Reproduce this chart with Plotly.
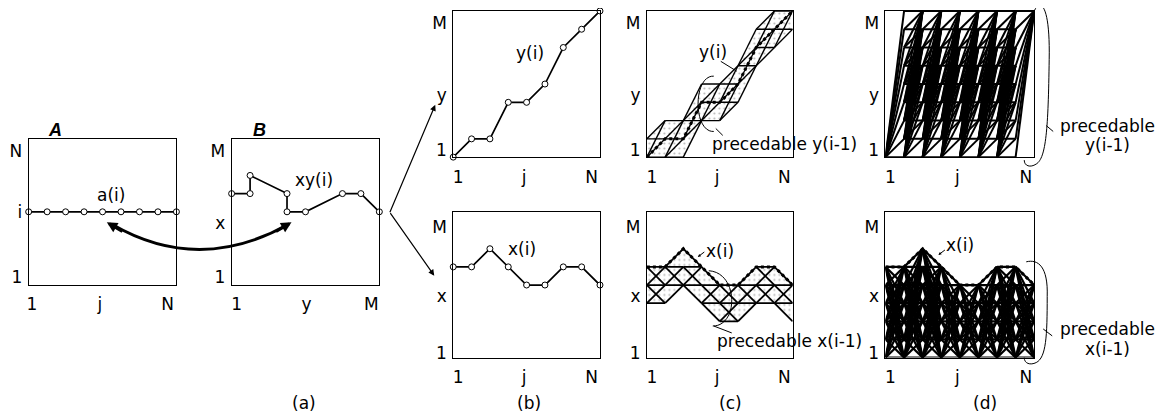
import plotly.graph_objects as go

W, H = 1172, 420          # target picture size
OFF = 8                   # default page body margin
FW, FH = W - 2 * OFF, H - 2 * OFF

# ---------------- data ----------------
j_vals = [1, 2, 3, 4, 5, 6, 7, 8, 9]          # column index j = 1..N
a_row = [5, 5, 5, 5, 5, 5, 5, 5, 5]           # a(i): row i of image A
y_path = [1, 2, 2, 4, 4, 5, 7, 8, 9]          # y(i) along j
x_path = [6, 6, 7, 6, 5, 5, 6, 6, 5]          # x(i) along j
N_cols = 9
M_rows = 9
x_prec_depth = 2                              # x(i-1) in [x(i)-2, x(i)]
y_prec_spread = 1                             # y(i-1) in [y(i)-1, y(i)+1]

tick_A_x = ['1', 'j', 'N']
tick_A_y = ['1', 'i', 'N']
tick_B_x = ['1', 'y', 'M']
tick_B_y = ['1', 'x', 'M']
tick_j = ['1', 'j', 'N']
tick_y = ['1', 'y', 'M']
tick_x = ['1', 'x', 'M']

FONT = 'DejaVu Sans'
FS = 17

# ---------------- layout boxes (pixels in the picture) ----------------
boxes = {
    'A':  (26.7, 174.7, 140.7, 288),
    'B':  (230, 378, 140.7, 288),
    'b1': (452, 599, 11, 159),
    'b2': (452, 599, 215, 362),
    'c1': (646, 792, 11, 159),
    'c2': (646, 792, 215, 362),
    'd1': (885, 1034, 11, 159),
    'd2': (885, 1034, 215, 362),
}
ticks = {
    'A':  ([1.18, 4.85, 8.53], tick_A_x, [1.43, 5.0, 8.33], tick_A_y),
    'B':  ([1.27, 5.05, 8.57], tick_B_x, [1.43, 4.37, 8.33], tick_B_y),
    'b1': ([1.27, 4.86, 8.55], tick_j, [1.38, 4.42, 8.34], tick_y),
    'b2': ([1.27, 4.86, 8.55], tick_j, [1.27, 4.37, 8.2], tick_x),
    'c1': ([1.27, 4.86, 8.55], tick_j, [1.38, 4.42, 8.34], tick_y),
    'c2': ([1.27, 4.86, 8.55], tick_j, [1.27, 4.37, 8.2], tick_x),
    'd1': ([1.27, 4.86, 8.55], tick_j, [1.38, 4.42, 8.34], tick_y),
    'd2': ([1.27, 4.86, 8.55], tick_j, [1.27, 4.37, 8.2], tick_x),
}
order = ['A', 'B', 'b1', 'b2', 'c1', 'c2', 'd1', 'd2']
axid = {k: i + 1 for i, k in enumerate(order)}


def fx(px):
    return (px - OFF) / FW


def fy(py):
    return 1 - (py - OFF) / FH


fig = go.Figure()
layout = dict(width=FW, height=FH, margin=dict(l=0, r=0, t=0, b=0),
              paper_bgcolor='white', plot_bgcolor='rgba(0,0,0,0)',
              showlegend=False, font=dict(family=FONT, size=FS, color='black'))

for k in order:
    n = axid[k]
    x0, x1, y0, y1 = boxes[k]
    tx, txt, ty, tyt = ticks[k]
    xs = 'xaxis' if n == 1 else f'xaxis{n}'
    ys = 'yaxis' if n == 1 else f'yaxis{n}'
    layout[xs] = dict(domain=[fx(x0), fx(x1)], range=[1, 9], anchor=f'y{n if n > 1 else ""}',
                      showline=True, mirror=True, linecolor='black', linewidth=1,
                      showgrid=False, zeroline=False, ticks='', tickvals=tx, ticktext=txt,
                      tickfont=dict(size=FS, family=FONT), ticklabelstandoff=4, fixedrange=True)
    layout[ys] = dict(domain=[fy(y1), fy(y0)], range=[1, 9], anchor=f'x{n if n > 1 else ""}',
                      showline=True, mirror=True, linecolor='black', linewidth=1,
                      showgrid=False, zeroline=False, ticks='', tickvals=ty, ticktext=tyt,
                      tickfont=dict(size=FS, family=FONT), ticklabelstandoff=2, fixedrange=True)


def ax(k):
    n = axid[k]
    s = '' if n == 1 else str(n)
    return dict(xaxis='x' + s, yaxis='y' + s)


def add_segments(k, segs, width=1.0, color='black'):
    xs, ys = [], []
    for (a, b, c, d) in segs:
        xs += [a, c, None]
        ys += [b, d, None]
    fig.add_trace(go.Scatter(x=xs, y=ys, mode='lines', line=dict(color=color, width=width),
                             hoverinfo='skip', cliponaxis=False, **ax(k)))


def add_path(k, xs, ys):
    fig.add_trace(go.Scatter(x=xs, y=ys, mode='lines+markers',
                             line=dict(color='black', width=1.7),
                             marker=dict(symbol='circle', size=6, color='white',
                                         line=dict(color='black', width=1)),
                             cliponaxis=False, hoverinfo='skip', **ax(k)))


def add_band(k, lower, upper):
    fig.add_trace(go.Scatter(x=j_vals, y=lower, mode='lines', line=dict(width=0, color='rgba(0,0,0,0)'),
                             hoverinfo='skip', **ax(k)))
    fig.add_trace(go.Scatter(x=j_vals, y=upper, mode='lines', line=dict(width=0, color='rgba(0,0,0,0)'),
                             fill='tonexty', fillcolor='rgba(255,255,255,0)',
                             fillpattern=dict(shape='.', size=5, solidity=0.15, fgcolor='#777'),
                             hoverinfo='skip', **ax(k)))


def add_dotted(k, path):
    fig.add_trace(go.Scatter(x=j_vals, y=path, mode='lines', line=dict(color='black', width=3, dash='dot'),
                             cliponaxis=False, hoverinfo='skip', **ax(k)))


# (a) A and B
add_path('A', j_vals, a_row)
add_path('B', y_path, x_path)
# (b)
add_path('b1', j_vals, y_path)
add_path('b2', j_vals, x_path)

# (c) precedable meshes
lev_y = [list(range(max(1, v - y_prec_spread), min(M_rows, v + y_prec_spread) + 1)) for v in y_path]
segs = []
for j in range(N_cols - 1):
    for k0 in lev_y[j]:
        for k1 in lev_y[j + 1]:
            if 0 <= k1 - k0 <= 2:
                segs.append((j_vals[j], k0, j_vals[j + 1], k1))
add_band('c1', [l[0] for l in lev_y], [l[-1] for l in lev_y])
add_segments('c1', segs, width=1.4)
add_dotted('c1', y_path)

lev_x = [list(range(max(1, v - x_prec_depth), v + 1)) for v in x_path]
segs = []
for j in range(N_cols - 1):
    for k0 in lev_x[j]:
        for k1 in lev_x[j + 1]:
            if abs(k1 - k0) <= 1:
                segs.append((j_vals[j], k0, j_vals[j + 1], k1))
add_band('c2', [l[0] for l in lev_x], [l[-1] for l in lev_x])
add_segments('c2', segs, width=1.8)
add_dotted('c2', x_path)

# (d) all precedable paths
lev_d1 = []
for j in range(N_cols):
    if j == 0:
        lev_d1.append([1])
    elif j == N_cols - 1:
        lev_d1.append([M_rows])
    else:
        lev_d1.append(list(range(1, M_rows + 1)))
segs = []
for j in range(N_cols - 1):
    for k0 in lev_d1[j]:
        for k1 in lev_d1[j + 1]:
            if k1 >= k0:
                segs.append((j_vals[j], k0, j_vals[j + 1], k1))
add_segments('d1', segs, width=2.0)

lev_d2 = [list(range(1, v + 1)) for v in x_path]
segs = []
for j in range(N_cols - 1):
    for k0 in lev_d2[j]:
        for k1 in lev_d2[j + 1]:
            segs.append((j_vals[j], k0, j_vals[j + 1], k1))
add_segments('d2', segs, width=2.2)
add_dotted('d2', x_path)


# ---------------- decorations (pixel helpers) ----------------
def P(x, y):
    return f'{fx(x):.5f},{fy(y):.5f}'


shapes = []


def path_shape(d, width=1.0):
    shapes.append(dict(type='path', path=d, xref='paper', yref='paper',
                       line=dict(color='black', width=width), layer='above'))


# curved double arrow between A and B
path_shape(f'M {P(110, 227)} Q {P(197, 278)} {P(287, 227)}', width=3)
# ellipse arcs and leader lines
path_shape(f'M {P(713, 77)} C {P(692, 76)} {P(692, 134)} {P(713, 133)}', 1)
path_shape(f'M {P(715, 130)} L {P(722, 137)}', 1)
path_shape(f'M {P(720, 62)} L {P(736, 72)}', 1)
path_shape(f'M {P(708, 274)} C {P(738, 276)} {P(738, 330)} {P(712, 330)}', 1)
path_shape(f'M {P(713, 330)} L {P(731, 337)}', 1)
path_shape(f'M {P(1034, 11)} C {P(1040, -2)} {P(1050, 4)} {P(1049, 60)} '
           f'C {P(1048, 130)} {P(1046, 160)} {P(1036, 166)} '
           f'C {P(1030, 170)} {P(1024, 168)} {P(1024, 162)}', 1)
path_shape(f'M {P(1046, 127)} L {P(1053, 133)}', 1)
path_shape(f'M {P(1026, 265)} C {P(1038, 262)} {P(1048, 270)} {P(1047, 300)} '
           f'C {P(1047, 340)} {P(1046, 362)} {P(1036, 367)} '
           f'C {P(1030, 370)} {P(1024, 368)} {P(1024, 362)}', 1)
path_shape(f'M {P(1043, 333)} L {P(1052, 340)}', 1)
layout['shapes'] = shapes

annotations = []


def arrow(tx, ty, tailx, taily, width=1.2, size=1.0):
    annotations.append(dict(x=fx(tx), y=fy(ty), xref='paper', yref='paper', text='',
                            showarrow=True, arrowhead=2, arrowsize=size, arrowwidth=width,
                            arrowcolor='black', ax=tailx - tx, ay=taily - ty))


def label(x, y, t, size=FS, family=FONT):
    annotations.append(dict(x=fx(x), y=fy(y), xref='paper', yref='paper', text=t,
                            showarrow=False, xanchor='center', yanchor='middle',
                            font=dict(size=size, family=family, color='black')))


arrow(105, 225, 122, 235, width=3, size=0.7)
arrow(290, 225, 273, 235, width=3, size=0.7)
arrow(434, 106, 388, 215, width=1.2, size=1.0)
arrow(433, 279, 388, 215, width=1.2, size=1.0)
arrow(697, 260, 705, 254, width=1, size=0.6)
arrow(938, 258, 946, 252, width=1, size=0.6)

label(53, 132, '<b><i>A</i></b>', size=18, family='Liberation Sans')
label(258, 132, '<b><i>B</i></b>', size=18, family='Liberation Sans')
label(109, 197, 'a(i)')
label(313, 182, 'xy(i)')
label(529, 54, 'y(i)')
label(521, 252, 'x(i)')
label(712, 53, 'y(i)')
label(784, 146, 'precedable y(i-1)')
label(719, 254, 'x(i)')
label(789, 345, 'precedable x(i-1)')
label(960, 248, 'x(i)')
label(1107, 127, 'precedable')
label(1107, 147, 'y(i-1)')
label(1107, 333, 'precedable')
label(1107, 353, 'x(i-1)')
label(303, 408, '(a)')
label(528, 408, '(b)')
label(730, 408, '(c)')
label(985, 408, '(d)')
layout['annotations'] = annotations

fig.update_layout(**layout)
fig.write_html('out.html')
